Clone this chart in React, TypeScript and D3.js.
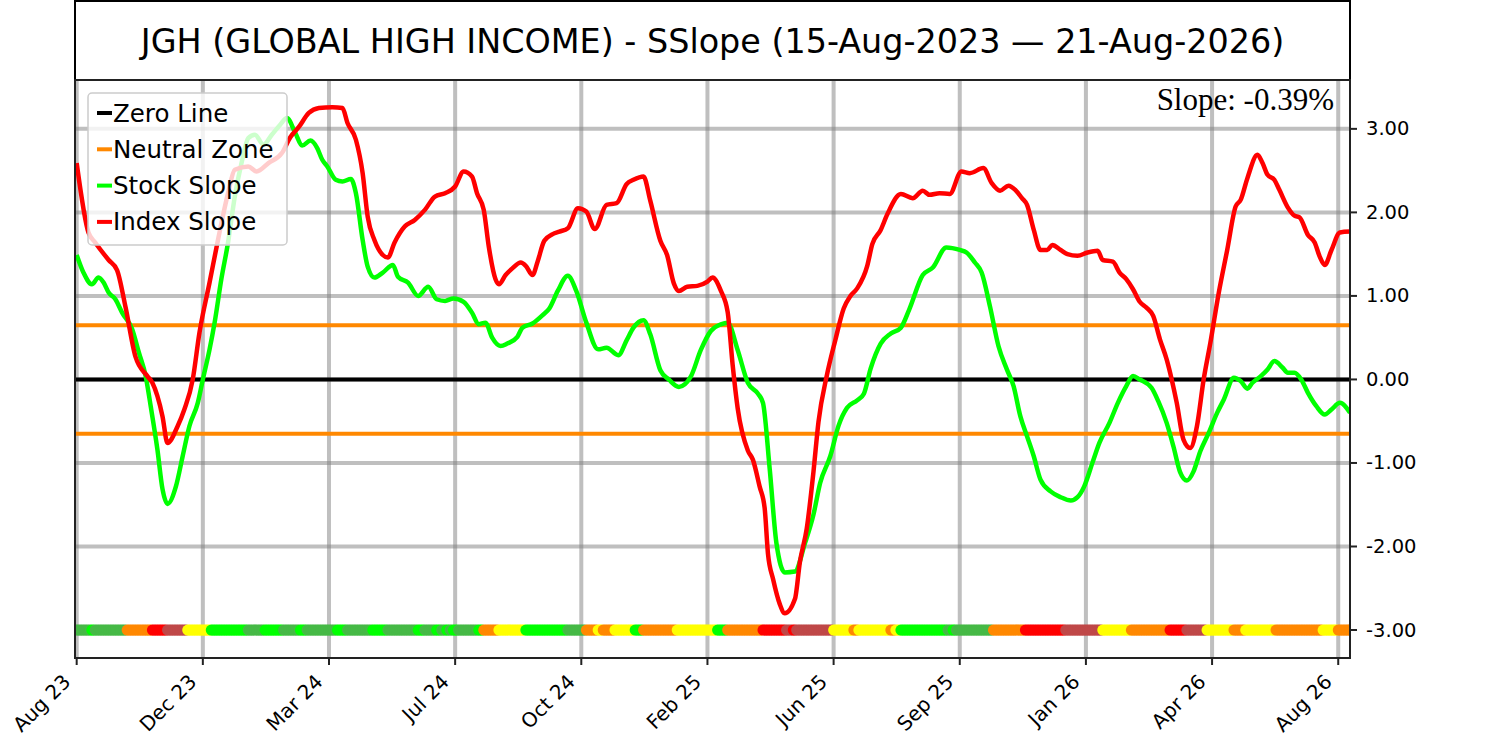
import { useEffect, useRef } from 'react';
import * as d3 from 'd3';

// trading-day index -> slope value (%)
const stockSlope: [number, number][] = [
  [0, 1.49], [4, 1.28], [9, 1.14], [13, 1.22], [16, 1.16], [19, 1.04], [23, 0.96], [27, 0.8], [33, 0.6], [37, 0.32],
  [41, 0.04], [44, -0.32], [48, -0.84], [51, -1.31], [54, -1.49], [59, -1.28], [63, -0.92], [67, -0.56], [72, -0.28], [75, 0.0],
  [79, 0.36], [82, 0.68], [86, 1.2], [90, 1.64], [94, 2.19], [98, 2.59], [102, 2.89], [106, 2.93], [111, 2.81], [116, 2.93],
  [121, 3.05], [125, 3.13], [130, 2.95], [134, 2.8], [139, 2.86], [143, 2.77], [146, 2.63], [149, 2.55], [154, 2.39], [158, 2.37],
  [163, 2.4], [166, 2.23], [170, 1.67], [173, 1.35], [177, 1.22], [182, 1.28], [188, 1.37], [191, 1.23], [197, 1.16], [203, 1.0],
  [209, 1.11], [214, 0.96], [219, 0.94], [224, 0.97], [230, 0.93], [235, 0.8], [239, 0.66], [243, 0.68], [247, 0.5], [252, 0.4],
  [256, 0.43], [262, 0.51], [265, 0.62], [271, 0.67], [277, 0.77], [281, 0.85], [286, 1.06], [292, 1.24], [297, 1.06], [303, 0.68],
  [310, 0.36], [315, 0.38], [322, 0.29], [327, 0.47], [331, 0.62], [337, 0.71], [341, 0.54], [347, 0.11], [352, 0.0], [358, -0.09],
  [365, 0.03], [371, 0.35], [377, 0.58], [383, 0.66], [387, 0.68], [393, 0.35], [399, -0.04], [405, -0.17], [408, -0.28], [412, -1.07],
  [416, -1.96], [421, -2.31], [427, -2.3], [433, -1.96], [438, -1.62], [442, -1.24], [448, -0.92], [453, -0.55], [458, -0.34], [464, -0.25],
  [468, -0.17], [472, 0.13], [478, 0.43], [484, 0.55], [490, 0.62], [495, 0.84], [503, 1.25], [509, 1.34], [517, 1.58], [525, 1.55],
  [529, 1.52], [534, 1.4], [538, 1.28], [543, 0.87], [548, 0.4], [553, 0.12], [557, -0.08], [561, -0.44], [565, -0.68], [569, -0.92],
  [573, -1.2], [579, -1.34], [585, -1.41], [591, -1.45], [595, -1.41], [599, -1.28], [604, -0.99], [608, -0.76], [614, -0.52], [619, -0.28],
  [624, -0.08], [628, 0.04], [632, 0.0], [639, -0.1], [643, -0.26], [648, -0.52], [652, -0.8], [656, -1.11], [660, -1.21], [664, -1.1],
  [668, -0.86], [673, -0.64], [678, -0.4], [682, -0.24], [688, 0.02], [692, -0.02], [696, -0.11], [699, -0.04], [704, 0.04], [708, 0.12],
  [712, 0.22], [717, 0.14], [720, 0.08], [724, 0.08], [728, 0.0], [732, -0.16], [737, -0.32], [742, -0.42], [746, -0.36], [751, -0.28],
  [757, -0.4],
];

const indexSlope: [number, number][] = [
  [0, 2.59], [7, 1.76], [11, 1.64], [19, 1.43], [24, 1.31], [29, 0.87], [35, 0.27], [42, 0.04], [45, -0.04], [51, -0.44],
  [54, -0.76], [60, -0.56], [64, -0.36], [69, 0.0], [73, 0.56], [79, 1.16], [84, 1.67], [90, 2.23], [94, 2.51], [102, 2.55],
  [107, 2.49], [114, 2.59], [122, 2.71], [127, 2.9], [132, 3.02], [138, 3.19], [144, 3.25], [152, 3.26], [158, 3.25], [161, 3.07],
  [166, 2.87], [170, 2.47], [173, 1.95], [177, 1.67], [182, 1.49], [185, 1.46], [189, 1.64], [195, 1.83], [201, 1.91], [207, 2.03],
  [213, 2.19], [219, 2.23], [225, 2.31], [230, 2.49], [235, 2.43], [238, 2.23], [242, 2.03], [245, 1.59], [249, 1.2], [251, 1.14],
  [255, 1.25], [259, 1.33], [264, 1.4], [267, 1.36], [271, 1.25], [274, 1.41], [278, 1.66], [283, 1.74], [287, 1.77], [292, 1.81],
  [298, 2.05], [303, 2.01], [308, 1.8], [315, 2.09], [321, 2.11], [327, 2.34], [331, 2.39], [337, 2.43], [341, 2.14], [347, 1.66],
  [351, 1.49], [355, 1.15], [358, 1.06], [363, 1.11], [369, 1.12], [375, 1.17], [378, 1.22], [383, 1.06], [387, 0.81], [390, 0.17],
  [393, -0.35], [399, -0.85], [402, -0.96], [406, -1.28], [409, -1.54], [411, -2.09], [414, -2.39], [418, -2.69], [421, -2.8], [427, -2.63],
  [430, -2.18], [434, -1.79], [438, -1.11], [441, -0.51], [446, 0.05], [451, 0.47], [456, 0.85], [460, 1.0], [464, 1.09], [470, 1.36],
  [473, 1.62], [478, 1.79], [482, 1.98], [490, 2.22], [497, 2.17], [503, 2.26], [507, 2.21], [513, 2.23], [519, 2.22], [526, 2.49],
  [531, 2.47], [539, 2.53], [544, 2.35], [549, 2.26], [554, 2.32], [558, 2.27], [562, 2.17], [565, 2.09], [569, 1.79], [573, 1.55],
  [577, 1.55], [580, 1.61], [585, 1.55], [589, 1.5], [595, 1.48], [601, 1.52], [607, 1.54], [610, 1.43], [616, 1.41], [620, 1.28],
  [624, 1.2], [628, 1.08], [632, 0.93], [636, 0.86], [640, 0.76], [644, 0.48], [648, 0.24], [651, 0.0], [654, -0.28], [658, -0.72],
  [662, -0.82], [666, -0.56], [670, 0.0], [674, 0.44], [679, 1.04], [684, 1.55], [689, 2.07], [692, 2.15], [696, 2.41], [702, 2.69],
  [705, 2.59], [708, 2.45], [712, 2.39], [715, 2.27], [720, 2.06], [724, 1.96], [727, 1.94], [732, 1.73], [736, 1.64], [739, 1.47],
  [742, 1.37], [746, 1.55], [751, 1.76], [757, 1.77],
];

// signal strip at the bottom: [first index of run, state]
const signalRuns: [number, string][] = [
  [0, 'D'], [9, 'G'], [11, 'D'], [30, 'O'], [45, 'R'], [54, 'K'], [66, 'Y'], [80, 'G'], [102, 'D'], [112, 'G'],
  [123, 'D'], [133, 'G'], [137, 'D'], [155, 'G'], [161, 'D'], [176, 'G'], [185, 'D'], [203, 'G'], [207, 'D'], [214, 'G'],
  [217, 'D'], [220, 'G'], [222, 'D'], [224, 'G'], [227, 'D'], [239, 'G'], [242, 'O'], [251, 'Y'], [267, 'G'], [292, 'D'],
  [303, 'O'], [310, 'Y'], [313, 'O'], [320, 'Y'], [332, 'G'], [337, 'O'], [357, 'Y'], [381, 'G'], [387, 'O'], [408, 'R'],
  [422, 'K'], [426, 'R'], [428, 'K'], [450, 'Y'], [462, 'O'], [465, 'Y'], [484, 'O'], [487, 'Y'], [490, 'G'], [518, 'D'],
  [521, 'G'], [523, 'D'], [545, 'O'], [564, 'R'], [588, 'K'], [610, 'Y'], [627, 'O'], [650, 'R'], [660, 'K'], [672, 'Y'],
  [688, 'O'], [695, 'Y'], [713, 'O'], [741, 'Y'], [750, 'O'],
];
const lastIndex = 757;

const xTickIdx = [0, 75, 150, 225, 300, 375, 450, 525, 600, 675, 750];
const xTickLabels = ['Aug 23', 'Dec 23', 'Mar 24', 'Jul 24', 'Oct 24', 'Feb 25', 'Jun 25', 'Sep 25', 'Jan 26', 'Apr 26', 'Aug 26'];
const yTicks = [-3, -2, -1, 0, 1, 2, 3];
const neutralBand = 0.65;

const stateColors: Record<string, string> = {
  G: '#00ff00',
  D: '#46b946',
  O: '#ff8800',
  R: '#ff0000',
  K: '#bf4848',
  Y: '#ffff00',
};

const title = 'JGH (GLOBAL HIGH INCOME) - SSlope (15-Aug-2023 \u2014 21-Aug-2026)';
const slopeLabel = 'Slope: -0.39%';

export default function App() {
  const ref = useRef<SVGSVGElement | null>(null);

  useEffect(() => {
    if (!ref.current) return;
    const svg = d3.select(ref.current);
    svg.selectAll('*').remove();

    const width = 1500;
    const height = 741;
    const margin = { top: 80, right: 150, bottom: 83, left: 75 };
    const sans = 'DejaVu Sans, sans-serif';

    svg.attr('width', width).attr('height', height);
    svg.append('rect').attr('width', width).attr('height', height).attr('fill', 'white');

    const x = d3.scaleLinear().domain([-1, lastIndex]).range([margin.left, width - margin.right]);
    const y = d3.scaleLinear().domain([-3.335, 3.585]).range([height - margin.bottom, margin.top]);

    svg.append('clipPath').attr('id', 'plot-clip')
      .append('rect')
      .attr('x', margin.left).attr('y', margin.top)
      .attr('width', width - margin.left - margin.right)
      .attr('height', height - margin.top - margin.bottom);

    // title box
    svg.append('rect')
      .attr('x', margin.left).attr('y', 1)
      .attr('width', width - margin.left - margin.right).attr('height', margin.top - 1)
      .attr('fill', 'white').attr('stroke', '#000').attr('stroke-width', 2);
    svg.append('text')
      .attr('x', (margin.left + width - margin.right) / 2).attr('y', 41)
      .attr('text-anchor', 'middle').attr('dominant-baseline', 'central')
      .attr('font-family', sans).attr('font-size', 33.4)
      .text(title);

    const plot = svg.append('g').attr('clip-path', 'url(#plot-clip)');

    // grid
    plot.selectAll('.hgrid').data(yTicks).join('line')
      .attr('x1', x.range()[0]).attr('x2', x.range()[1])
      .attr('y1', (d) => y(d)).attr('y2', (d) => y(d))
      .attr('stroke', '#808080').attr('stroke-opacity', 0.5).attr('stroke-width', 4);
    plot.selectAll('.vgrid').data(xTickIdx).join('line')
      .attr('x1', (d) => x(d)).attr('x2', (d) => x(d))
      .attr('y1', y.range()[0]).attr('y2', y.range()[1])
      .attr('stroke', '#808080').attr('stroke-opacity', 0.5).attr('stroke-width', 4);

    // reference lines
    [neutralBand, -neutralBand].forEach((v) => {
      plot.append('line')
        .attr('x1', x.range()[0]).attr('x2', x.range()[1])
        .attr('y1', y(v)).attr('y2', y(v))
        .attr('stroke', '#ff8800').attr('stroke-width', 4);
    });
    plot.append('line')
      .attr('x1', x.range()[0]).attr('x2', x.range()[1])
      .attr('y1', y(0)).attr('y2', y(0))
      .attr('stroke', '#000').attr('stroke-width', 4);

    const line = d3.line<[number, number]>()
      .x((d) => x(d[0]))
      .y((d) => y(d[1]))
      .curve(d3.curveMonotoneX);

    plot.append('path').attr('d', line(stockSlope)!)
      .attr('fill', 'none').attr('stroke', '#00ff00').attr('stroke-width', 4.5)
      .attr('stroke-linejoin', 'round');
    plot.append('path').attr('d', line(indexSlope)!)
      .attr('fill', 'none').attr('stroke', '#ff0000').attr('stroke-width', 4.5)
      .attr('stroke-linejoin', 'round');

    // signal dots
    const dots: { i: number; s: string }[] = [];
    signalRuns.forEach(([start, s], k) => {
      const end = k + 1 < signalRuns.length ? signalRuns[k + 1][0] : lastIndex + 1;
      for (let i = start; i < end; i++) dots.push({ i, s });
    });
    plot.selectAll('.dot').data(dots).join('circle')
      .attr('cx', (d) => x(d.i)).attr('cy', y(-3))
      .attr('r', 5.5)
      .attr('fill', (d) => stateColors[d.s]);

    // frame
    svg.append('rect')
      .attr('x', margin.left).attr('y', margin.top)
      .attr('width', width - margin.left - margin.right)
      .attr('height', height - margin.top - margin.bottom)
      .attr('fill', 'none').attr('stroke', '#222').attr('stroke-width', 2);

    // right y axis
    const yAxis = svg.append('g');
    yTicks.forEach((v) => {
      yAxis.append('line')
        .attr('x1', x.range()[1]).attr('x2', x.range()[1] + 7)
        .attr('y1', y(v)).attr('y2', y(v))
        .attr('stroke', '#222').attr('stroke-width', 2);
      yAxis.append('text')
        .attr('x', x.range()[1] + 16).attr('y', y(v))
        .attr('dominant-baseline', 'central')
        .attr('font-family', sans).attr('font-size', 19.5)
        .text(v.toFixed(2));
    });

    // bottom x axis
    const xAxis = svg.append('g');
    xTickIdx.forEach((t, k) => {
      const px = x(t);
      xAxis.append('line')
        .attr('x1', px).attr('x2', px)
        .attr('y1', y.range()[0]).attr('y2', y.range()[0] + 7)
        .attr('stroke', '#222').attr('stroke-width', 2);
      xAxis.append('text')
        .attr('transform', `translate(${px - 5},${y.range()[0] + 25}) rotate(-45)`)
        .attr('text-anchor', 'end')
        .attr('font-family', sans).attr('font-size', 20)
        .text(xTickLabels[k]);
    });

    // slope annotation
    svg.append('text')
      .attr('x', x.range()[1] - 16).attr('y', 110)
      .attr('text-anchor', 'end')
      .attr('font-family', 'Liberation Serif, Times New Roman, serif').attr('font-size', 31)
      .text(slopeLabel);

    // legend
    const items = [
      { name: 'Zero Line', color: '#000' },
      { name: 'Neutral Zone', color: '#ff8800' },
      { name: 'Stock Slope', color: '#00ff00' },
      { name: 'Index Slope', color: '#ff0000' },
    ];
    const legend = svg.append('g').attr('transform', `translate(${margin.left + 13},${margin.top + 13})`);
    legend.append('rect')
      .attr('width', 199).attr('height', 152).attr('rx', 4)
      .attr('fill', 'white').attr('fill-opacity', 0.8)
      .attr('stroke', '#cccccc').attr('stroke-width', 1.5);
    items.forEach((it, i) => {
      const row = legend.append('g').attr('transform', `translate(0,${20 + i * 36.3})`);
      row.append('line')
        .attr('x1', 9).attr('x2', 24).attr('y1', 0).attr('y2', 0)
        .attr('stroke', it.color).attr('stroke-width', 4);
      row.append('text')
        .attr('x', 25).attr('y', 0)
        .attr('dominant-baseline', 'central')
        .attr('font-family', sans).attr('font-size', 24.5)
        .text(it.name);
    });
  }, []);

  return (
    <div style={{ position: 'absolute', left: 0, top: 0 }}>
      <svg ref={ref}></svg>
    </div>
  );
}
